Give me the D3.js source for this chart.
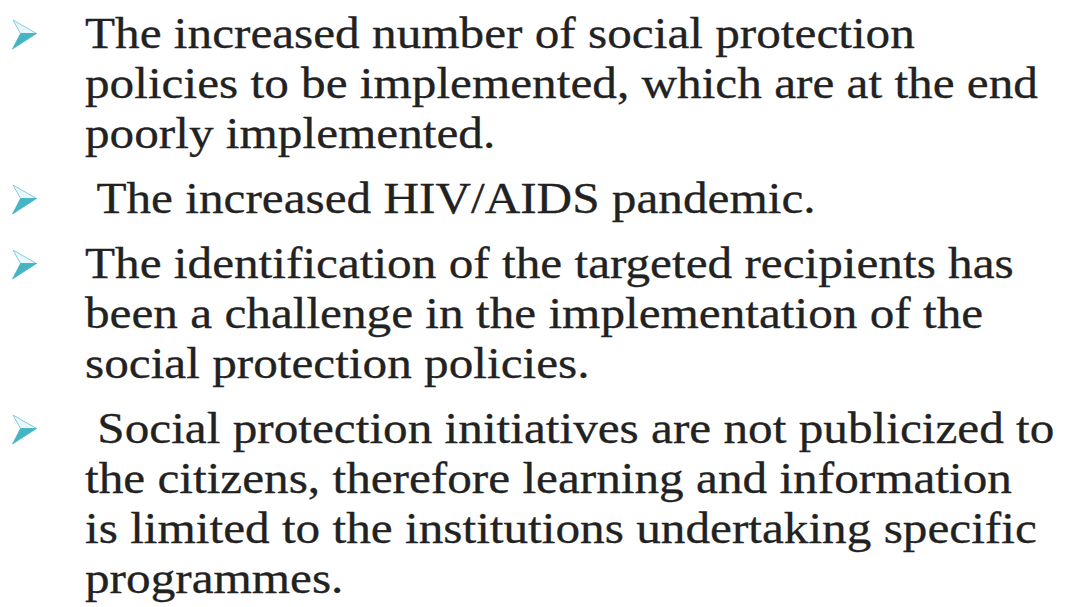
<!DOCTYPE html>
<html>
  <head>
    <meta charset="utf-8">
    <script src="https://d3js.org/d3.v7.min.js"></script>
    <style>
      body { margin: 0; background: #fff; }
      text.line {
        font-family: "Liberation Serif", serif;
        font-size: 44px;
        fill: #222;
        stroke: #222;
        stroke-width: 0.3px;
        white-space: pre;
      }
    </style>
  </head>
<body>
  <script type="text/javascript">

    // slide text, one array per bullet (each entry is a wrapped line)
    var bullet1 = [
      "The increased number of social protection",
      "policies to be implemented, which are at the end",
      "poorly implemented."
    ];
    var bullet2 = [
      " The increased HIV/AIDS pandemic."
    ];
    var bullet3 = [
      "The identification of the targeted recipients has",
      "been a challenge in the implementation of the",
      "social protection policies."
    ];
    var bullet4 = [
      " Social protection initiatives are not publicized to",
      "the citizens, therefore learning and information",
      "is limited to the institutions undertaking specific",
      "programmes."
    ];
    var bullets = [bullet1, bullet2, bullet3, bullet4];

    var width = 1069, height = 607;
    var textLeft = 85, firstBase = 48, lineGap = 50, paraGap = 15;

    var svg = d3.select("body")
      .append("svg")
        .attr("width", width)
        .attr("height", height);

    // work out baseline of every line
    var rows = [];
    var y = firstBase;
    bullets.forEach(function(b, bi) {
      b.forEach(function(t, li) {
        rows.push({ bullet: bi, first: li == 0, text: t, y: y });
        y += lineGap;
      });
      y += paraGap;
    });

    // text group, stretched horizontally to the width of the original face
    var g = svg.append("g");
    var texts = g.selectAll("text.line")
      .data(rows)
      .enter()
      .append("text")
        .attr("class", "line")
        .attr("x", 0)
        .attr("y", function(d) { return d.y; })
        .text(function(d) { return d.text; });

    var w0 = texts.nodes()[0].getComputedTextLength();
    var sx = (915 - textLeft) / w0;
    g.attr("transform", "translate(" + textLeft + ",0) scale(" + sx + ",1)");

    // arrowhead bullets
    var heads = svg.selectAll("g.head")
      .data(rows.filter(function(d) { return d.first; }))
      .enter()
      .append("g")
        .attr("class", "head")
        .attr("transform", function(d) { return "translate(0," + d.y + ")"; });

    heads.append("path")
      .attr("d", "M13,-28 L36.5,-14.5 L20.5,-14.5 Z")
      .attr("fill", "#eaf7fa")
      .attr("stroke", "#7fcfdc")
      .attr("stroke-width", 1)
      .attr("stroke-linejoin", "round");

    heads.append("path")
      .attr("d", "M20.5,-14.5 L36.5,-14.5 L12.5,1 Z")
      .attr("fill", "#45b5c6")
      .attr("stroke", "#45b5c6")
      .attr("stroke-width", 0.8)
      .attr("stroke-linejoin", "round");

  </script>
</body>
</html>
